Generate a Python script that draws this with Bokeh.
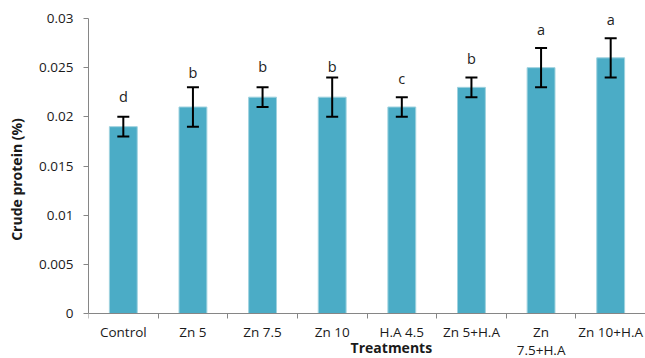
from bokeh.plotting import figure
from bokeh.models import ColumnDataSource, Whisker, TeeHead, FixedTicker, Range1d
from bokeh.core.properties import value
from bokeh.embed import file_html
from bokeh.resources import INLINE

treatments = ["Control", "Zn 5", "Zn 7.5", "Zn 10", "H.A 4.5", "Zn 5+H.A", "Zn\n7.5+H.A", "Zn 10+H.A"]
crude_protein = [0.019, 0.021, 0.022, 0.022, 0.021, 0.023, 0.025, 0.026]
error = [0.001, 0.002, 0.001, 0.002, 0.001, 0.001, 0.002, 0.002]
letters = ["d", "b", "b", "b", "c", "b", "a", "a"]
letter_y = [0.0221, 0.0245, 0.0251, 0.0251, 0.0239, 0.0259, 0.0289, 0.0299]
y_ticks = [0, 0.005, 0.01, 0.015, 0.02, 0.025, 0.03]
y_tick_labels = ["0", "0.005", "0.01", "0.015", "0.02", "0.025", "0.03"]
x_title = "Treatments"
y_title = "Crude protein (%)"

FONT = "Open Sans"
AXIS_GRAY = "#868686"
BAR = "#4BACC6"
TXT = "#1a1a1a"

xs = [i + 0.5 for i in range(len(treatments))]
src = ColumnDataSource(dict(
    x=xs, top=crude_protein,
    lower=[v - e for v, e in zip(crude_protein, error)],
    upper=[v + e for v, e in zip(crude_protein, error)],
    letter=letters, ly=letter_y,
))

p = figure(width=645, height=358, output_backend="svg", toolbar_location=None,
           x_range=Range1d(0, 8), y_range=Range1d(-0.004576, 0.031831),
           min_border_left=88, min_border_right=0, min_border_top=0, min_border_bottom=0)
p.outline_line_color = None
p.xgrid.grid_line_color = None
p.ygrid.grid_line_color = None
p.background_fill_color = "white"
p.border_fill_color = "white"

p.vbar(x="x", top="top", width=0.4, bottom=0, source=src,
       fill_color=BAR, line_color="#9fd2df", line_width=1)

w = Whisker(base="x", lower="lower", upper="upper", source=src,
            line_color="black", line_width=2, level="overlay",
            lower_head=TeeHead(size=12, line_color="black", line_width=2),
            upper_head=TeeHead(size=12, line_color="black", line_width=2))
p.add_layout(w)

p.text(x="x", y="ly", text="letter", source=src, text_align="center",
       text_baseline="middle", text_font=value(FONT), text_font_size="14.5px",
       text_color="#222222")

# x axis fixed at y = 0
xa = p.xaxis[0]
xa.fixed_location = 0
xa.ticker = FixedTicker(ticks=xs, minor_ticks=list(range(len(treatments) + 1)))
xa.major_label_overrides = {x: t for x, t in zip(xs, treatments)}
xa.major_tick_line_color = None
xa.major_tick_out = 0
xa.major_tick_in = 0
xa.minor_tick_line_color = AXIS_GRAY
xa.minor_tick_out = 5
xa.minor_tick_in = 0
xa.major_label_standoff = 4
xa.axis_line_color = AXIS_GRAY
xa.major_label_text_font = FONT
xa.major_label_text_font_size = "13.5px"
xa.major_label_text_line_height = 1.05
xa.major_label_text_color = TXT

p.text(x=[4.35], y=[-0.00346], text=[x_title], text_align="center",
       text_baseline="middle", text_font=value(FONT), text_font_style="bold",
       text_font_size="14px", text_color=TXT)

# y axis
ya = p.yaxis[0]
ya.bounds = (0, 0.03)
ya.ticker = FixedTicker(ticks=y_ticks, minor_ticks=[])
ya.major_label_overrides = {t: l for t, l in zip(y_ticks, y_tick_labels)}
ya.axis_line_color = AXIS_GRAY
ya.major_tick_line_color = AXIS_GRAY
ya.major_tick_out = 5
ya.major_tick_in = 0
ya.minor_tick_line_color = None
ya.major_label_standoff = 10
ya.major_label_text_font = FONT
ya.major_label_text_font_size = "13.5px"
ya.major_label_text_color = TXT
ya.axis_label = y_title
ya.axis_label_text_font = FONT
ya.axis_label_text_font_style = "bold"
ya.axis_label_text_font_size = "14px"
ya.axis_label_text_color = TXT
ya.axis_label_standoff = 10

open("out.html", "w").write(file_html(p, INLINE))
